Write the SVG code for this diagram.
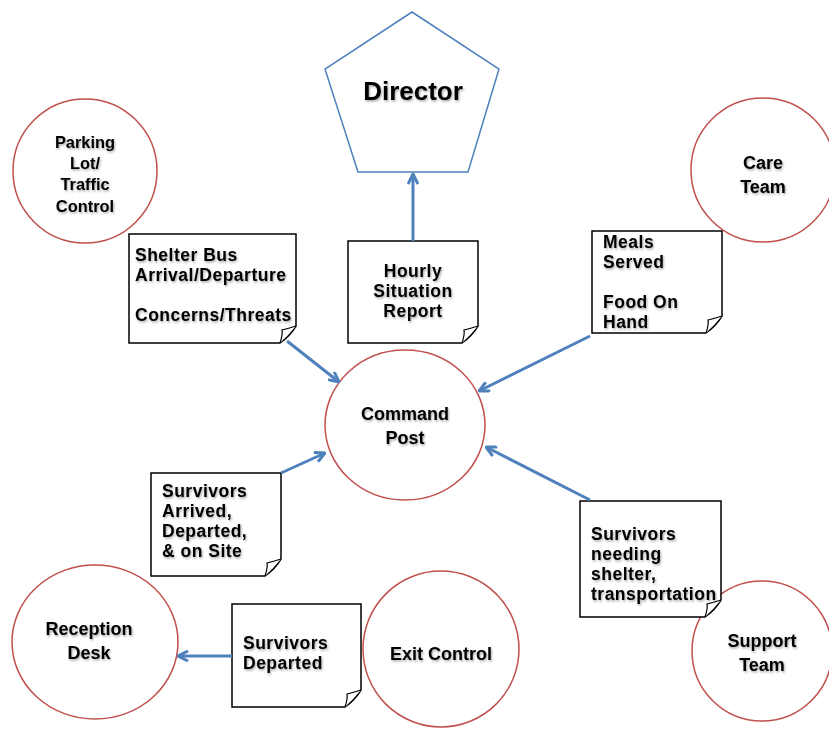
<svg xmlns="http://www.w3.org/2000/svg" width="829" height="730" viewBox="0 0 829 730">
<defs>
<filter id="sh" x="-10%" y="-10%" width="120%" height="130%">
<feDropShadow dx="1" dy="1.5" stdDeviation="1" flood-color="#000" flood-opacity="0.35"/>
</filter>
<marker id="ah" viewBox="0 0 12 12" refX="11" refY="6" markerWidth="12" markerHeight="12" markerUnits="userSpaceOnUse" orient="auto">
<path d="M1,1 L11,6 L1,11" fill="none" stroke="#4F81BD" stroke-width="3"/>
</marker>
</defs>
<style>
.c{fill:#fff;stroke:#C0504D;stroke-width:1.5}
.n{fill:#fff;stroke:#000;stroke-width:1.5}
.f{fill:#fff;stroke:#000;stroke-width:1.2}
text{font-family:"Liberation Sans",Arial,sans-serif;font-weight:bold;font-size:18px;fill:#000;filter:url(#sh)}
.s{font-size:17.5px;letter-spacing:0.5px}
.m{text-anchor:middle}
.a{fill:none;stroke:#4F81BD;stroke-width:3;marker-end:url(#ah)}
</style>
<rect width="829" height="730" fill="#fff"/>

<g id="director">
<polygon points="412,12 499,69 468,172 358,172 325,69" fill="#fff" stroke="#4F81BD" stroke-width="1.5"/>
<text x="413" y="100" class="m" style="font-size:26px">Director</text>
</g>

<g id="parking">
<circle cx="85" cy="171" r="72" class="c"/>
<text class="m" style="font-size:16.4px"><tspan x="85" y="148">Parking</tspan><tspan x="85" y="169">Lot/</tspan><tspan x="85" y="190">Traffic</tspan><tspan x="85" y="212">Control</tspan></text>
</g>

<g id="care">
<circle cx="763" cy="170" r="72" class="c"/>
<text class="m"><tspan x="763" y="169">Care</tspan><tspan x="763" y="193">Team</tspan></text>
</g>

<g id="command">
<ellipse cx="405" cy="425" rx="80" ry="75" class="c"/>
<text class="m"><tspan x="405" y="420">Command</tspan><tspan x="405" y="444">Post</tspan></text>
</g>

<g id="reception">
<ellipse cx="95" cy="642" rx="83" ry="77" class="c"/>
<text class="m"><tspan x="89" y="635">Reception</tspan><tspan x="89" y="659">Desk</tspan></text>
</g>

<g id="exit">
<circle cx="441" cy="649" r="78" class="c"/>
<text x="441" y="660" class="m">Exit Control</text>
</g>

<g id="support">
<circle cx="762" cy="651" r="70" class="c"/>
<text class="m"><tspan x="762" y="647">Support</tspan><tspan x="762" y="671">Team</tspan></text>
</g>

<g id="note-shelter">
<path d="M129,234 H296 V326 Q290,336 280,343 H129 Z" class="n"/>
<path d="M280,343 Q283,334 282,330 Q290,328 296,326" class="f"/>
<text class="s"><tspan x="135" y="261">Shelter Bus</tspan><tspan x="135" y="281">Arrival/Departure</tspan><tspan x="135" y="321">Concerns/Threats</tspan></text>
</g>

<g id="note-hourly">
<path d="M348,241 H478 V326 Q472,336 462,343 H348 Z" class="n"/>
<path d="M462,343 Q465,334 464,330 Q472,328 478,326" class="f"/>
<text class="m s"><tspan x="413" y="277">Hourly</tspan><tspan x="413" y="297">Situation</tspan><tspan x="413" y="317">Report</tspan></text>
</g>

<g id="note-meals">
<path d="M592,231 H722 V316 Q716,326 706,333 H592 Z" class="n"/>
<path d="M706,333 Q709,324 708,320 Q716,318 722,316" class="f"/>
<text class="s"><tspan x="603" y="248">Meals</tspan><tspan x="603" y="268">Served</tspan><tspan x="603" y="308">Food On</tspan><tspan x="603" y="328">Hand</tspan></text>
</g>

<g id="note-arrived">
<path d="M151,473 H281 V559 Q275,569 265,576 H151 Z" class="n"/>
<path d="M265,576 Q268,567 267,563 Q275,561 281,559" class="f"/>
<text class="s"><tspan x="162" y="497">Survivors</tspan><tspan x="162" y="517">Arrived,</tspan><tspan x="162" y="537">Departed,</tspan><tspan x="162" y="557">&amp; on Site</tspan></text>
</g>

<g id="note-needing">
<path d="M580,501 H721 V600 Q715,610 705,617 H580 Z" class="n"/>
<path d="M705,617 Q708,608 707,604 Q715,602 721,600" class="f"/>
<text class="s"><tspan x="591" y="540">Survivors</tspan><tspan x="591" y="560">needing</tspan><tspan x="591" y="580">shelter,</tspan><tspan x="591" y="600">transportation</tspan></text>
</g>

<g id="note-departed">
<path d="M232,604 H361 V690 Q355,700 345,707 H232 Z" class="n"/>
<path d="M345,707 Q348,698 347,694 Q355,692 361,690" class="f"/>
<text class="s"><tspan x="243" y="649">Survivors</tspan><tspan x="243" y="669">Departed</tspan></text>
</g>

<g id="connectors">
<line x1="413" y1="241" x2="413" y2="174" class="a"/>
<line x1="287" y1="341" x2="339" y2="382" class="a"/>
<line x1="590" y1="336" x2="479" y2="391" class="a"/>
<line x1="281" y1="473" x2="325" y2="453" class="a"/>
<line x1="590" y1="500" x2="486" y2="447" class="a"/>
<line x1="232" y1="656" x2="178" y2="656" class="a"/>
</g>
</svg>
